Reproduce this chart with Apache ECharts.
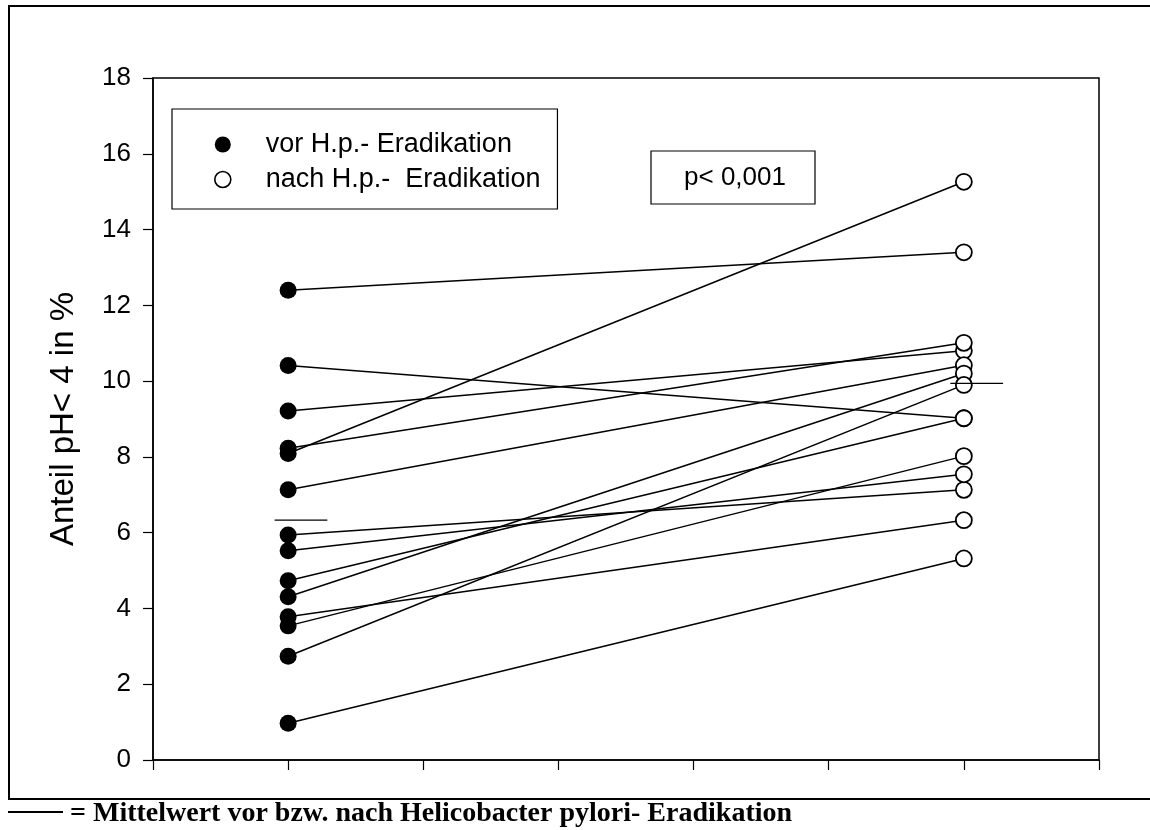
<!DOCTYPE html>
<html>
<head>
<meta charset="utf-8">
<script src="https://cdn.jsdelivr.net/npm/echarts@6/dist/echarts.min.js"></script>
<style>
  html, body { margin: 0; padding: 0; background: #fff; }
  #chart { width: 1150px; height: 830px; }
</style>
</head>
<body>
<div id="chart"></div>
<script>
// ---- data ----
const groupNames = ['vor H.p.- Eradikation', 'nach H.p.-  Eradikation'];
const groupX = [1, 6];                 // x positions of the two groups
const beforeValues = [12.40, 10.41, 9.21, 8.23, 8.09, 7.13, 5.94, 5.52, 4.73, 4.31, 3.78, 3.54, 2.74, 0.97];
const afterValues  = [13.40, 9.02, 10.80, 11.01, 15.26, 10.42, 7.13, 7.54, 9.02, 10.20, 6.33, 8.02, 9.90, 5.32];
const meanValues = [6.33, 9.94];       // mean markers (short horizontal lines)
const yAxisName = 'Anteil pH< 4 in %';
const pText = 'p< 0,001';
const footnote = '= Mittelwert vor bzw. nach Helicobacter pylori- Eradikation';

const chart = echarts.init(document.getElementById('chart'), null, { renderer: 'canvas' });

const series = [];
beforeValues.forEach((b, i) => {
  series.push({
    type: 'line',
    data: [[groupX[0], b], [groupX[1], afterValues[i]]],
    symbol: 'none',
    lineStyle: { color: '#000', width: 1.5, opacity: 1 },
    silent: true,
    z: 2
  });
});
// mean lines
meanValues.forEach((m, i) => {
  series.push({
    type: 'line',
    data: [[groupX[i] - 0.1, m], [groupX[i] + 0.29, m]],
    symbol: 'none',
    lineStyle: { color: '#000', width: 1.2, opacity: 1 },
    silent: true,
    z: 6
  });
});
series.push({
  name: groupNames[0],
  type: 'scatter',
  data: beforeValues.map(v => [groupX[0], v]),
  symbol: 'circle',
  symbolSize: 17,
  itemStyle: { color: '#000', borderColor: '#000', borderWidth: 0, opacity: 1 },
  z: 5
});
series.push({
  name: groupNames[1],
  type: 'scatter',
  data: afterValues.map(v => [groupX[1], v]),
  symbol: 'circle',
  symbolSize: 16,
  itemStyle: { color: '#fff', borderColor: '#000', borderWidth: 1.8, opacity: 1 },
  z: 5
});

const option = {
  backgroundColor: '#fff',
  animation: false,
  grid: {
    left: 153, right: 51, top: 78, bottom: 70,
    show: true, borderColor: '#000', borderWidth: 1.5, backgroundColor: 'transparent'
  },
  xAxis: {
    type: 'value', min: 0, max: 7, interval: 1,
    axisLine: { show: true, lineStyle: { color: '#000', width: 1.5 } },
    axisTick: { show: true, length: 10, lineStyle: { color: '#000', width: 1.2 } },
    axisLabel: { show: false },
    splitLine: { show: false }
  },
  yAxis: {
    type: 'value', min: 0, max: 18, interval: 2,
    name: yAxisName,
    nameLocation: 'middle',
    nameGap: 73,
    nameTextStyle: { fontFamily: 'Liberation Sans, Arial', fontSize: 33, color: '#000' },
    axisLine: { show: true, lineStyle: { color: '#000', width: 1.5 } },
    axisTick: { show: true, length: 10, lineStyle: { color: '#000', width: 1.2 } },
    axisLabel: { fontFamily: 'Liberation Sans, Arial', fontSize: 26, color: '#000', margin: 22 },
    splitLine: { show: false }
  },
  legend: {
    data: [
      { name: groupNames[0], icon: 'circle' },
      { name: groupNames[1], icon: 'circle', itemStyle: { color: '#fff', borderColor: '#000', borderWidth: 1.6 } }
    ],
    orient: 'vertical',
    left: 172, top: 109,
    itemWidth: 16, itemHeight: 16,
    itemGap: 8,
    padding: [22, 17, 16, 42],
    borderColor: '#000', borderWidth: 1.2,
    backgroundColor: '#fff',
    selectedMode: false,
    textStyle: { fontFamily: 'Liberation Sans, Arial', fontSize: 27, color: '#000', padding: [0, 0, 0, 30] }
  },
  graphic: [
    // outer frame
    { type: 'rect', shape: { x: 9, y: 6, width: 1160, height: 793 },
      style: { fill: 'none', stroke: '#000', lineWidth: 2 }, z: 0, silent: true },
    // p-value box
    { type: 'rect', shape: { x: 651, y: 151, width: 164, height: 53 },
      style: { fill: '#fff', stroke: '#000', lineWidth: 1.2 }, z: 10, silent: true },
    { type: 'text', x: 735, y: 178,
      style: { text: pText, fontFamily: 'Liberation Sans, Arial', fontSize: 26, fill: '#000',
               align: 'center', verticalAlign: 'middle' }, z: 11, silent: true },
    // footnote
    { type: 'line', shape: { x1: 8, y1: 812, x2: 63, y2: 812 },
      style: { stroke: '#000', lineWidth: 2 }, z: 10, silent: true },
    { type: 'text', x: 70, y: 814,
      style: { text: footnote, fontFamily: 'Liberation Serif, Times New Roman', fontWeight: 'bold',
               fontSize: 28, fill: '#000', align: 'left', verticalAlign: 'middle' }, z: 10, silent: true }
  ],
  series: series
};

chart.setOption(option);
</script>
</body>
</html>
